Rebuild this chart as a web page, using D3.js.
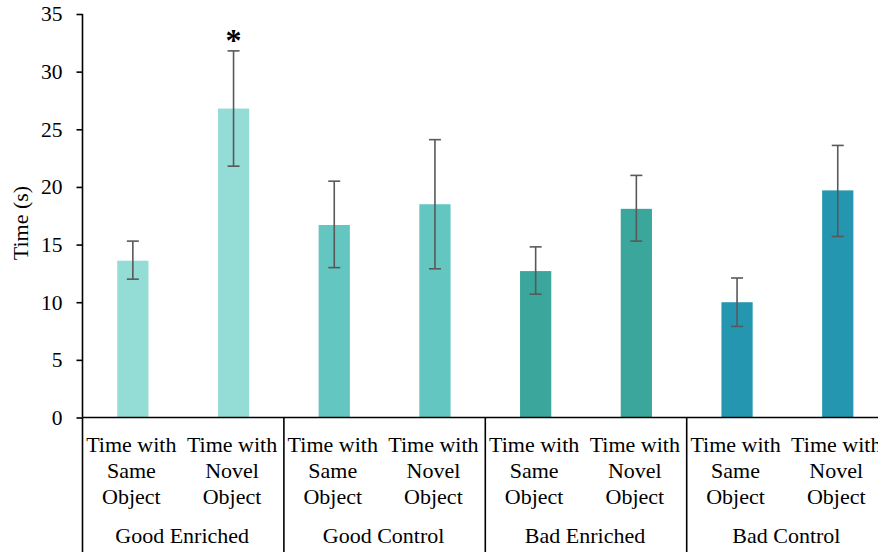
<!DOCTYPE html>
<html>
<head>
<meta charset="utf-8">
<script src="https://cdn.jsdelivr.net/npm/d3@7"></script>
<style>
  body { margin: 0; background: #fff; }
  text { font-family: "Liberation Serif", "Times New Roman", serif; fill: #000; }
</style>
</head>
<body>
<svg id="chart" width="878" height="552"></svg>
<script>
// chart data
const groups = ["Good Enriched", "Good Control", "Bad Enriched", "Bad Control"];
const conditions = ["Time with Same Object", "Time with Novel Object"];
const means = [13.6, 26.8, 16.7, 18.5, 12.7, 18.1, 10.0, 19.7];
const errLow = [12.0, 21.8, 13.0, 12.9, 10.7, 15.3, 7.9, 15.7];
const errHigh = [15.3, 31.8, 20.5, 24.1, 14.8, 21.0, 12.1, 23.6];
const groupColors = ["#94dcd6", "#63c6c0", "#3aa69c", "#2596b0"];
const yTicks = [0, 5, 10, 15, 20, 25, 30, 35];
const starred = [1];

const svg = d3.select("#chart");
const plotLeft = 82.5, plotTop = 14, plotBottom = 417.5;
const catW = 100.7;
const plotRight = plotLeft + catW * means.length;

const rows = means.map((m, i) => ({
  i: i,
  group: groups[Math.floor(i / 2)],
  cond: conditions[i % 2],
  mean: m, lo: errLow[i], hi: errHigh[i],
  color: groupColors[Math.floor(i / 2)]
}));

const x = d3.scaleBand().domain(rows.map(d => d.i)).range([plotLeft, plotRight]).paddingInner(0.69).paddingOuter(0.345);
const y = d3.scaleLinear().domain([0, 35]).range([plotBottom, plotTop]);

// bars
svg.append("g").selectAll("rect").data(rows).join("rect")
  .attr("x", d => x(d.i))
  .attr("width", x.bandwidth())
  .attr("y", d => y(d.mean))
  .attr("height", d => y(0) - y(d.mean))
  .attr("fill", d => d.color);

// error bars
const eb = svg.append("g").attr("stroke", "#595959").attr("stroke-width", 1.6);
rows.forEach(d => {
  const cx = x(d.i) + x.bandwidth() / 2;
  eb.append("line").attr("x1", cx).attr("x2", cx).attr("y1", y(d.lo)).attr("y2", y(d.hi));
  eb.append("line").attr("x1", cx - 6).attr("x2", cx + 6).attr("y1", y(d.lo)).attr("y2", y(d.lo));
  eb.append("line").attr("x1", cx - 6).attr("x2", cx + 6).attr("y1", y(d.hi)).attr("y2", y(d.hi));
});

// significance star
starred.forEach(i => {
  svg.append("text")
    .attr("x", x(i) + x.bandwidth() / 2)
    .attr("y", y(errHigh[i]) + 0)
    .attr("text-anchor", "middle")
    .style("font-size", "32px")
    .style("font-weight", "bold")
    .text("*");
});

// y axis
const yAxis = svg.append("g")
  .attr("transform", "translate(" + plotLeft + ",0)")
  .call(d3.axisLeft(y).tickValues(yTicks).tickSize(6).tickPadding(14));
yAxis.select(".domain").attr("stroke", "#000").attr("stroke-width", 1.6).attr("d", "M0," + plotTop + "V" + plotBottom);
yAxis.selectAll(".tick line").attr("stroke", "#000").attr("stroke-width", 1.6);
yAxis.selectAll(".tick text").style("font-size", "21.5px").style("font-family", "Liberation Serif, serif");

svg.append("text")
  .attr("transform", "translate(28,223) rotate(-90)")
  .attr("text-anchor", "middle")
  .style("font-size", "22px")
  .text("Time (s)");

// x axis baseline
svg.append("line")
  .attr("x1", plotLeft).attr("x2", 878).attr("y1", plotBottom).attr("y2", plotBottom)
  .attr("stroke", "#000").attr("stroke-width", 1.6);

// group dividers
const dividers = d3.range(groups.length + 1).map(g => plotLeft + g * catW * 2);
svg.append("g").selectAll("line").data(dividers).join("line")
  .attr("x1", d => d).attr("x2", d => d)
  .attr("y1", plotBottom).attr("y2", 552)
  .attr("stroke", "#000").attr("stroke-width", 1.6);

// category labels (three lines each)
const catG = svg.append("g");
rows.forEach(d => {
  const words = d.cond.split(" ");
  const lines = [words.slice(0, 2).join(" "), words[2], words[3]];
  const t = catG.append("text")
    .attr("text-anchor", "middle")
    .style("font-size", "22px");
  lines.forEach((ln, k) => {
    t.append("tspan")
      .attr("x", x(d.i) + x.bandwidth() / 2 - 1.5)
      .attr("y", 452 + k * 26)
      .text(ln);
  });
});

// group labels
svg.append("g").selectAll("text").data(groups).join("text")
  .attr("x", (d, g) => plotLeft + catW * (2 * g + 1) - 1)
  .attr("y", 543)
  .attr("text-anchor", "middle")
  .style("font-size", "22px")
  .text(d => d);
</script>
</body>
</html>
